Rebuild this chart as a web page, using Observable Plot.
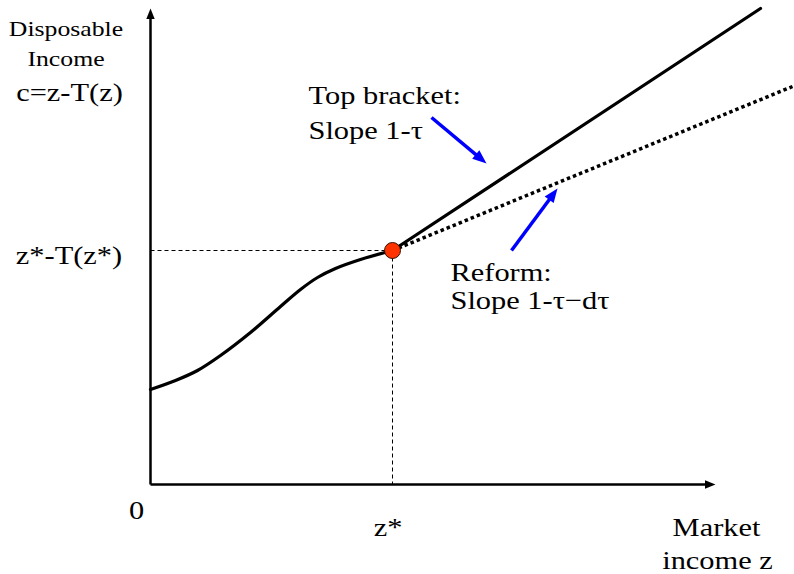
<!DOCTYPE html>
<html>
<head>
<meta charset="utf-8">
<script src="https://cdn.jsdelivr.net/npm/d3@7"></script>
<script src="https://cdn.jsdelivr.net/npm/@observablehq/plot@0.6"></script>
<style>
  html, body { margin: 0; padding: 0; background: #fff; }
</style>
</head>
<body>
<div id="chart"></div>
<script>
// Schematic values (market income z, disposable income c)
const zStar = 2.42;
const cStar = 2.34;
const curveZ = [0, 0.25, 0.47, 0.70, 1.00, 1.30, 1.50, 1.67, 1.85, 2.10, 2.42];
const curveC = [0.95, 1.04, 1.14, 1.29, 1.52, 1.78, 1.95, 2.07, 2.16, 2.25, 2.34];
const topBracketEnd = [6.10, 4.76];
const reformEnd = [6.42, 3.98];
const axisTips = {x: 5.65, y: 4.76};
const pointerTop = [2.81, 3.67, 3.36, 3.21];
const pointerReform = [3.61, 2.34, 4.07, 2.96];
const labelText = ["Disposable", "Income", "c=z-T(z)", "z*-T(z*)", "0", "z*", "Market", "income z", "Top bracket:", "Slope 1-τ", "Reform:", "Slope 1-τ−dτ"];
const labelZ = [-0.845, -0.845, -0.81, -0.815, -0.14, 2.375, 5.66, 5.67, 1.58, 1.58, 3.00, 3.00];
const labelC = [4.49, 4.19, 3.84, 2.21, -0.34, -0.51, -0.51, -0.84, 3.81, 3.46, 2.04, 1.76];
const labelAnchor = ["middle", "middle", "middle", "middle", "middle", "middle", "middle", "middle", "start", "start", "start", "start"];
const labelSize = [22, 22, 26, 26, 26, 26, 26, 26, 26, 26, 26, 26];

const curve = curveZ.map((z, i) => ({z, c: curveC[i]}));
const labels = labelText.map((t, i) => ({t, z: labelZ[i], c: labelC[i], a: labelAnchor[i], s: labelSize[i]}));

// arrows: line + filled head (head tip at x2,y2)
function arrowRows(list) {
  return list.map(([x1, y1, x2, y2]) => {
    const dx = x2 - x1, dy = y2 - y1, len = Math.hypot(dx, dy);
    return {x1, y1, x2, y2, ux: dx / len, uy: dy / len, rot: Math.atan2(dx, dy) * 180 / Math.PI};
  });
}
const axesRows = arrowRows([[0, 0, 0, axisTips.y], [0, 0, axisTips.x, 0]]);
const pointerRows = arrowRows([pointerTop, pointerReform]);

// narrow filled arrowhead symbol, tip at the origin pointing up
const headSymbol = {
  draw(context, size) {
    const r = Math.sqrt(size / Math.PI);
    const L = 2.5 * r, w = 1.0 * r;
    context.moveTo(0, 0);
    context.lineTo(-w, L);
    context.lineTo(w, L);
    context.closePath();
  }
};

const font = "Liberation Serif, Times New Roman, Times, serif";
const textMarks = ["start", "middle", "end"].flatMap(anchor =>
  [22, 26].map(size => Plot.text(labels.filter(d => d.a === anchor && d.s === size), {
    x: "z", y: "c", text: "t", textAnchor: anchor, lineAnchor: "bottom",
    fontSize: size, fontFamily: font, fill: "#000"
  }))
);

const chart = Plot.plot({
  width: 794,
  height: 574,
  margin: 0,
  x: {domain: [-1.5, 6.44], axis: null},
  y: {domain: [-0.9, 4.84], axis: null},
  style: {fontFamily: font, background: "#fff"},
  marks: [
    // guide lines
    Plot.link([{x1: 0, y1: cStar, x2: zStar, y2: cStar}, {x1: zStar, y1: cStar, x2: zStar, y2: 0}],
      {x1: "x1", y1: "y1", x2: "x2", y2: "y2", stroke: "#000", strokeWidth: 1, strokeDasharray: "4,3"}),
    // axes
    Plot.link(axesRows, {x1: "x1", y1: "y1", x2: d => d.x2 - d.ux * 0.05, y2: d => d.y2 - d.uy * 0.05,
      stroke: "#000", strokeWidth: 2.5, strokeLinecap: "butt"}),
    Plot.dot(axesRows, {x: "x2", y: "y2", rotate: "rot", symbol: headSymbol, r: 4.2, fill: "#000", stroke: "none"}),
    // reform dotted line
    Plot.line([{z: zStar, c: cStar}, {z: reformEnd[0], c: reformEnd[1]}],
      {x: "z", y: "c", stroke: "#000", strokeWidth: 3.5, strokeDasharray: "3.5,3", strokeLinecap: "butt"}),
    // current schedule
    Plot.line(curve, {x: "z", y: "c", curve: "catmull-rom", stroke: "#000", strokeWidth: 3.2}),
    Plot.line([{z: zStar, c: cStar}, {z: topBracketEnd[0], c: topBracketEnd[1]}],
      {x: "z", y: "c", stroke: "#000", strokeWidth: 3.2}),
    // blue pointers
    Plot.link(pointerRows, {x1: "x1", y1: "y1", x2: d => d.x2 - d.ux * 0.08, y2: d => d.y2 - d.uy * 0.08,
      stroke: "#0000ff", strokeWidth: 3.5, strokeLinecap: "butt"}),
    Plot.dot(pointerRows, {x: "x2", y: "y2", rotate: "rot", symbol: headSymbol, r: 5.6, fill: "#0000ff", stroke: "none"}),
    // point
    Plot.dot([{z: zStar, c: cStar}], {x: "z", y: "c", r: 8, fill: "#ff3300", stroke: "#331100", strokeWidth: 1}),
    ...textMarks
  ]
});

document.getElementById("chart").appendChild(chart);
// Horizontally stretch the lettering as in the original slide
chart.querySelectorAll("text").forEach(t => {
  const tr = t.getAttribute("transform") || "";
  const x = t.getAttribute("x"), y = t.getAttribute("y");
  if (x !== null || y !== null) {
    t.removeAttribute("x"); t.removeAttribute("y");
    t.setAttribute("transform", `translate(${x || 0},${y || 0}) ${tr} scale(1.17,1)`);
  } else {
    t.setAttribute("transform", `${tr} scale(1.17,1)`);
  }
});
</script>
</body>
</html>
